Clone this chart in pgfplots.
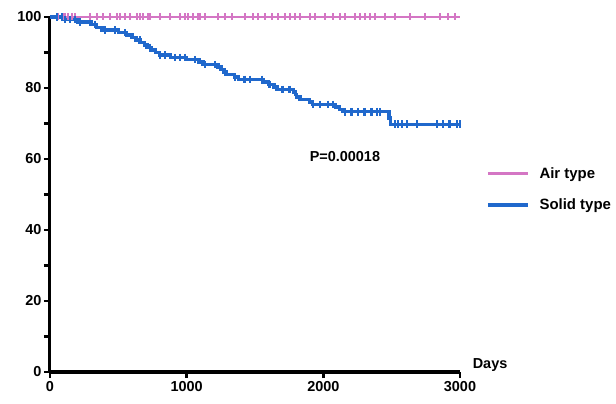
\documentclass[border=0pt]{standalone}
\usepackage{pgfplots}
\pgfplotsset{compat=1.18}
\usepackage{fontspec}
\setmainfont{Liberation Sans}

\definecolor{airpink}{RGB}{212,118,196}
\definecolor{solidblue}{RGB}{32,104,204}

\begin{document}
\begin{tikzpicture}
\path[use as bounding box] (-50bp,-32bp) rectangle (566bp,372bp);
\begin{axis}[
    scale only axis,
    width=410bp, height=355bp,
    xmin=0, xmax=3000,
    ymin=0, ymax=100,
    axis x line*=bottom,
    axis y line*=left,
    axis line style={line width=3bp, black},
    xtick={0,1000,2000,3000},
    ytick={0,20,40,60,80,100},
    minor ytick={10,30,50,70,90},
    tick align=outside,
    major tick length=6bp,
    minor tick length=6bp,
    every tick/.style={line width=2.4bp, black},
    tick label style={font=\bfseries\fontsize{14.5}{16}\selectfont},
    /pgf/number format/assume math mode=true,
    scaled x ticks=false,
    xticklabel style={/pgf/number format/1000 sep={}},
    yticklabel style={xshift=1bp},
    clip=false,
    legend style={at={(1.056,0.588)}, anchor=north west, draw=none, fill=none,
      font=\bfseries\fontsize{15}{17}\selectfont, row sep=15bp,
      /tikz/every odd column/.append style={column sep=8bp}},
    legend cell align=left,
    legend image code/.code={\draw[#1] (0bp,0bp) -- (40bp,0bp);},
  ]
  % Air type
  \addplot[airpink, line width=2.6bp] coordinates {(0,100) (3000,100)};
  \addlegendentry{Air type}
  \addplot[only marks, airpink, mark=|, mark size=3.5bp, line width=2bp, forget plot] coordinates {
    (59,100) (95,100) (110,100) (132,100) (161,100) (183,100) (293,100) (344,100)
    (388,100) (439,100) (490,100) (512,100) (549,100) (585,100) (636,100) (658,100)
    (680,100) (717,100) (732,100) (805,100) (878,100) (951,100) (988,100) (1010,100)
    (1046,100) (1083,100) (1097,100) (1134,100) (1229,100) (1280,100) (1331,100)
    (1426,100) (1485,100) (1522,100) (1573,100) (1624,100) (1668,100) (1719,100)
    (1756,100) (1792,100) (1829,100) (1902,100) (1939,100) (2012,100) (2070,100)
    (2121,100) (2158,100) (2231,100) (2268,100) (2304,100) (2341,100) (2377,100)
    (2451,100) (2524,100) (2634,100) (2743,100) (2853,100) (2911,100) (2963,100)
  };
  % Solid type
  \addplot[solidblue, line width=3.4bp, const plot] coordinates {
    (0,100) (100,99.3) (200,98.6) (300,97.9) (340,97.0) (380,96.3) (500,95.6)
    (560,94.9) (600,94.2) (630,93.5) (660,92.8) (690,92.1) (710,91.4) (740,90.7)
    (770,90.0) (800,89.3) (880,88.6) (1000,88.0) (1090,87.3) (1120,86.6)
    (1230,85.9) (1250,85.2) (1270,84.5) (1290,83.8) (1350,83.1) (1380,82.4)
    (1560,81.7) (1600,81.0) (1640,80.3) (1660,79.6) (1780,78.9) (1795,78.2)
    (1805,77.5) (1830,76.8) (1900,76.1) (1920,75.4) (2090,74.7) (2120,74.0)
    (2140,73.3) (2480,71.5) (2490,69.8) (3000,69.8)
  };
  \addlegendentry{Solid type}
  \addplot[only marks, solidblue, mark=|, mark size=3.8bp, line width=2.8bp, forget plot] coordinates {
    (51,100) (88,100) (110,99.3) (146,99.3) (183,99.3) (219,98.6) (329,97.9)
    (402,96.3) (475,96.3) (549,95.6) (658,93.5) (731,91.4) (805,89.3) (841,89.3)
    (914,88.6) (951,88.6) (988,88.6) (1061,88.0) (1134,86.6) (1207,86.6)
    (1280,84.5) (1353,83.1) (1426,82.4) (1463,82.4) (1551,82.4) (1609,81.0)
    (1704,79.6) (1755,79.6) (1924,75.4) (1975,75.4) (2034,75.4) (2070,75.4)
    (2158,73.3) (2209,73.3) (2253,73.3) (2304,73.3) (2355,73.3) (2392,73.3)
    (2414,73.3) (2524,69.8) (2546,69.8) (2575,69.8) (2612,69.8) (2685,69.8)
    (2831,69.8) (2875,69.8) (2926,69.8) (2978,69.8) (3000,69.8)
  };
  \node[font=\bfseries\fontsize{14.5}{16}\selectfont] at (axis cs:2158,60.6) {P=0.00018};
  \node[font=\bfseries\fontsize{14.5}{16}\selectfont] at (axis cs:3220,2) {Days};
\end{axis}
\end{tikzpicture}
\end{document}
